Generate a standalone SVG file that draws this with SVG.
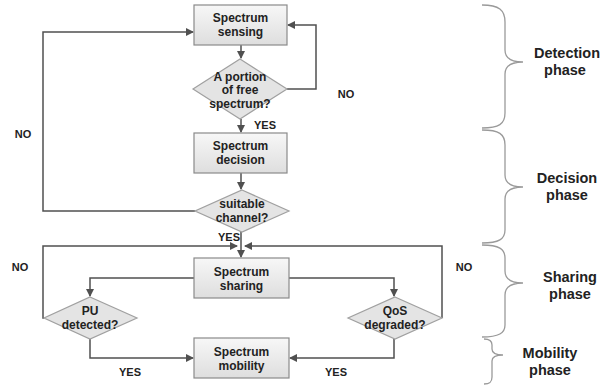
<svg xmlns="http://www.w3.org/2000/svg" width="609" height="385" viewBox="0 0 609 385">
<style>
.box{fill:url(#g);stroke:#8a8a8a;stroke-width:1.2}
.dia{fill:#e4e4e4;stroke:#a0a0a0;stroke-width:1.2}
.t{font-family:"Liberation Sans",Arial,sans-serif;font-weight:bold;font-size:12px;fill:#222;text-anchor:middle}
.l{font-family:"Liberation Sans",Arial,sans-serif;font-weight:bold;font-size:11px;fill:#222;text-anchor:middle}
.p{font-family:"Liberation Sans",Arial,sans-serif;font-weight:bold;font-size:14.5px;fill:#222;text-anchor:middle}
.c{fill:none;stroke:#505050;stroke-width:1.5}
.b{fill:none;stroke:#9a9a9a;stroke-width:1.3}
</style>
<defs>
<linearGradient id="g" x1="0" y1="0" x2="0" y2="1"><stop offset="0" stop-color="#f7f7f7"/><stop offset="1" stop-color="#dedede"/></linearGradient>
<marker id="a" markerWidth="8" markerHeight="8" refX="7" refY="4" orient="auto" markerUnits="userSpaceOnUse"><path d="M0,0 L8,4 L0,8 Z" fill="#505050"/></marker>
</defs>
<rect width="609" height="385" fill="#fff"/>
<g id="connectors">
<path class="c" d="M241,45 V58" marker-end="url(#a)"/>
<path class="c" d="M287,89 H316 V25 H288" marker-end="url(#a)"/>
<path class="c" d="M241,119 V132" marker-end="url(#a)"/>
<path class="c" d="M241,173 V189" marker-end="url(#a)"/>
<path class="c" d="M195,211 H43 V32 H193" marker-end="url(#a)"/>
<path class="c" d="M241,232 V257" marker-end="url(#a)"/>
<path class="c" d="M44,318 H43 V246 H237" marker-end="url(#a)"/>
<path class="c" d="M442,318 V246 H245" marker-end="url(#a)"/>
<path class="c" d="M194,278 H90 V296" marker-end="url(#a)"/>
<path class="c" d="M289,278 H394 V296" marker-end="url(#a)"/>
<path class="c" d="M90,339 V358 H193" marker-end="url(#a)"/>
<path class="c" d="M394,339 V358 H290" marker-end="url(#a)"/>
</g>
<g id="sensing"><rect class="box" x="194" y="5" width="93" height="40"/><text class="t" x="240.5" y="22">Spectrum</text><text class="t" x="240.5" y="36">sensing</text></g>
<g id="free"><polygon class="dia" points="240,59 287,89 240,119 193,89"/><text class="t" x="240" y="80.5">A portion</text><text class="t" x="240" y="94">of free</text><text class="t" x="240" y="107.5">spectrum?</text></g>
<g id="decision"><rect class="box" x="194" y="133" width="93" height="40"/><text class="t" x="240.5" y="150">Spectrum</text><text class="t" x="240.5" y="164">decision</text></g>
<g id="suitable"><polygon class="dia" points="242,190 289,211 242,232 195,211"/><text class="t" x="242" y="208">suitable</text><text class="t" x="242" y="221.5">channel?</text></g>
<g id="sharing"><rect class="box" x="194" y="258" width="95" height="40"/><text class="t" x="241.5" y="276">Spectrum</text><text class="t" x="241.5" y="290">sharing</text></g>
<g id="pu"><polygon class="dia" points="90,297 137,318 90,339 44,318"/><text class="t" x="90" y="315">PU</text><text class="t" x="90" y="328.5">detected?</text></g>
<g id="qos"><polygon class="dia" points="395,297 442,318 395,339 348,318"/><text class="t" x="395" y="315">QoS</text><text class="t" x="395" y="328.5">degraded?</text></g>
<g id="mobility"><rect class="box" x="194" y="338" width="95" height="40"/><text class="t" x="241.5" y="355.5">Spectrum</text><text class="t" x="241.5" y="369.5">mobility</text></g>
<g id="labels">
<text class="l" x="265" y="129">YES</text>
<text class="l" x="346" y="98">NO</text>
<text class="l" x="23" y="138">NO</text>
<text class="l" x="229" y="241">YES</text>
<text class="l" x="20" y="271">NO</text>
<text class="l" x="464" y="271">NO</text>
<text class="l" x="130" y="376">YES</text>
<text class="l" x="336" y="376">YES</text>
</g>
<g id="phases">
<path class="b" d="M482,5 C499,5 505,10 505,22 V50 C505,58 512,62 523,62 C512,62 505,66 505,74 V113 C505,124 499,128 482,128"/>
<path class="b" d="M482,130 C499,130 505,134 505,145 V175 C505,183 512,187 523,187 C512,187 505,191 505,199 V230 C505,239 499,243 482,243"/>
<path class="b" d="M482,245 C499,245 505,249 505,258 V271 C505,279 512,283 523,283 C512,283 505,287 505,295 V325 C505,333 499,337 482,337"/>
<path class="b" d="M484,339 C490,339 492,341 492,345 V349 C492,353 496,355 503,355 C496,355 492,357 492,361 V377 C492,382 490,384 484,384"/>
<text class="p" x="567" y="58">Detection</text><text class="p" x="565" y="75">phase</text>
<text class="p" x="567" y="183">Decision</text><text class="p" x="567" y="200">phase</text>
<text class="p" x="570" y="282">Sharing</text><text class="p" x="570" y="298.5">phase</text>
<text class="p" x="550" y="358">Mobility</text><text class="p" x="550" y="374.5">phase</text>
</g>
</svg>
